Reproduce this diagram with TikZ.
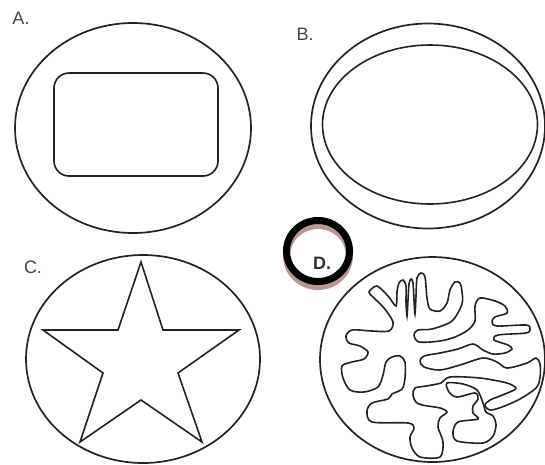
\documentclass[tikz,border=0pt]{standalone}
\usepackage{fontspec}
\setmainfont{Liberation Sans}
\usetikzlibrary{positioning}
\definecolor{inkline}{RGB}{35,35,35}
\definecolor{labelgray}{RGB}{70,70,70}
\definecolor{shadowbrown}{RGB}{185,152,148}
\tikzset{
  cellwall/.style={draw=inkline, line width=1.7pt},
  innerwall/.style={draw=inkline, line width=1.6pt},
  coral/.style={draw=inkline, line width=1.6pt},
  panellabel/.style={font=\fontsize{18}{20}\selectfont, text=labelgray, inner sep=0pt},
  ringmark/.style={draw=black, line width=7pt},
  ringshadow/.style={draw=shadowbrown, line width=7pt}
}

\begin{document}
\begin{tikzpicture}[x=1pt, y=-1pt]
  \useasboundingbox (0,0) rectangle (545,464);

  % A: cell with rounded box
  \node[panellabel] (labA) at (21,18) {A.};
  \draw[cellwall] (133,128) ellipse [x radius=118, y radius=105];
  \draw[innerwall, rounded corners=15pt] (54,73) rectangle (218,176);

  % B: double ring
  \node[panellabel] (labB) at (305,34) {B.};
  \draw[cellwall] (428,126) ellipse [x radius=117, y radius=102.5];
  \draw[innerwall] (430,124.5) ellipse [x radius=107.5, y radius=79.5];

  % C: star
  \node[panellabel] (labC) at (33,267) {C.};
  \draw[cellwall] (143,359) ellipse [x radius=117, y radius=104];
  \draw[innerwall, line join=miter] (141,262) -- (163,330) -- (239,330) -- (178,373)
    -- (202,442) -- (141,400) -- (80,442) -- (103,373) -- (43,330) -- (118,330) -- cycle;

  % D: circled label and folded membrane
  \draw[ringshadow] (318,256) ellipse [x radius=31.5, y radius=30.5];
  \draw[ringmark] (318,251) ellipse [x radius=31.5, y radius=30.5];
  \node[panellabel, font=\fontsize{18}{20}\selectfont\bfseries, text=black!80] (labD) at (322,263) {D.};
  \draw[cellwall] (432.5,359.5) ellipse [x radius=112.5, y radius=102.5];

  \draw[coral] plot[smooth cycle, tension=0.5] coordinates {
    (369,292) (377,286) (388,296) (396,306)
    (397,292) (399,283) (403,280) (406,286) (406,302) (407,316)
    (408,300) (409,284) (411,279) (413,283) (414,300) (415,314)
    (416,296) (417,278) (421,273) (425,277) (427,298) (430,309) (440,311) (447,303)
    (450,290) (455,282) (460,283) (462,292) (462,304) (452,321) (432,329) (418,330)
    (414,335) (419,342) (440,341) (455,337) (468,330) (475,321)
    (475,306) (480,298) (495,301) (505,306) (507,313) (495,317) (492,322) (497,326)
    (526,325) (530,329) (526,333) (498,335) (494,340) (508,345) (512,349) (505,353)
    (493,354) (483,350) (473,344)
    (458,349) (440,353) (424,356) (420,361) (424,367) (440,370) (460,365) (483,358)
    (497,362) (507,368) (527,363) (536,358)
    (540,364) (540,378) (536,388) (520,399) (502,407) (490,410) (485,405) (490,400)
    (500,396) (512,391) (516,388) (507,383) (480,378) (450,377)
    (441,383) (426,386) (415,388) (413,395) (416,402) (422,405) (440,408) (447,412)
    (440,418) (438,427) (443,442) (440,457) (420,457) (412,448) (410,437) (414,428)
    (408,423) (372,422) (367,411) (372,403) (388,399) (392,394) (402,389) (405,378)
    (405,362)
    (400,356) (392,357) (386,362) (383,375) (378,387) (364,392) (350,390) (343,378)
    (342,366) (352,362) (364,359) (368,352) (360,346) (349,343) (346,336) (352,330)
    (372,331) (389,331) (393,322) (384,308) (373,297)};

  \draw[coral] plot[smooth cycle, tension=0.5] coordinates {
    (447,383) (449,392) (457,397) (475,393) (478,399) (473,406) (473,413) (478,419)
    (458,422) (453,432) (457,441) (483,443) (493,436) (496,425) (493,416) (486,412)
    (483,403) (477,390) (463,384)};
\end{tikzpicture}
\end{document}
